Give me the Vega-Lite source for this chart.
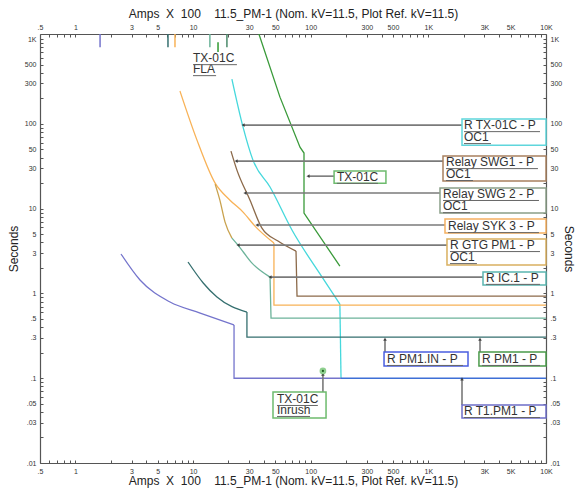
{
  "$schema": "https://vega.github.io/schema/vega-lite/v6.json",
  "width": 506,
  "height": 429,
  "autosize": {"type": "none"},
  "padding": {"left": 40, "top": 34, "right": 33, "bottom": 25},
  "background": "white",
  "config": {
    "view": {"stroke": null},
    "font": "Liberation Sans",
    "axis": {
      "grid": false,
      "domainColor": "#555555",
      "domainWidth": 1.2,
      "tickColor": "#555555",
      "tickSize": -3,
      "labelPadding": 7,
      "labelFontSize": 7,
      "labelColor": "#333333",
      "labelFont": "Liberation Sans",
      "labelOverlap": false,
      "labelFlush": false,
      "titleFont": "Liberation Sans",
      "titleFontSize": 12,
      "titleFontWeight": "normal",
      "titleColor": "#222222"
    }
  },
  "datasets": {
    "curves": [
      {"c": "TX-01C", "p": "t", "o": 1, "x": 36.3, "y": 1150},
      {"c": "TX-01C", "p": "t", "o": 2, "x": 54.8, "y": 207},
      {"c": "TX-01C", "p": "t", "o": 3, "x": 81.1, "y": 53.2},
      {"c": "TX-01C", "p": "t", "o": 4, "x": 87.7, "y": 45.3},
      {"c": "TX-01C", "p": "t", "o": 5, "x": 87.7, "y": 8.87},
      {"c": "TX-01C", "p": "t", "o": 6, "x": 177, "y": 2.1},
      {"c": "R TX-01C", "p": "c", "o": 1, "x": 21.4, "y": 337},
      {"c": "R TX-01C", "p": "c", "o": 2, "x": 26.6, "y": 91.7},
      {"c": "R TX-01C", "p": "c", "o": 3, "x": 32.3, "y": 37.4},
      {"c": "R TX-01C", "p": "c", "o": 4, "x": 45.1, "y": 18.0},
      {"c": "R TX-01C", "p": "c", "o": 5, "x": 69.3, "y": 5.6},
      {"c": "R TX-01C", "p": "c", "o": 6, "x": 125, "y": 1.56},
      {"c": "R TX-01C", "p": "c", "o": 7, "x": 177, "y": 0.75},
      {"c": "R TX-01C", "p": "t", "o": 7, "x": 177, "y": 0.75},
      {"c": "R TX-01C", "p": "t", "o": 8, "x": 181, "y": 0.1},
      {"c": "Relay SWG1", "p": "c", "o": 1, "x": 21.0, "y": 47.8},
      {"c": "Relay SWG1", "p": "c", "o": 2, "x": 23.6, "y": 28.5},
      {"c": "Relay SWG1", "p": "c", "o": 3, "x": 30.5, "y": 12.6},
      {"c": "Relay SWG1", "p": "c", "o": 4, "x": 38.5, "y": 5.9},
      {"c": "Relay SWG1", "p": "c", "o": 5, "x": 52.7, "y": 4.15},
      {"c": "Relay SWG1", "p": "c", "o": 6, "x": 75.0, "y": 3.16},
      {"c": "Relay SWG1", "p": "t", "o": 6, "x": 75.0, "y": 3.16},
      {"c": "Relay SWG1", "p": "t", "o": 7, "x": 76.5, "y": 0.93},
      {"c": "Relay SWG1", "p": "t", "o": 8, "x": 10000, "y": 0.93},
      {"c": "Relay SYK 3", "p": "c", "o": 1, "x": 7.74, "y": 244},
      {"c": "Relay SYK 3", "p": "c", "o": 2, "x": 10.8, "y": 64.4},
      {"c": "Relay SYK 3", "p": "c", "o": 3, "x": 15.4, "y": 20.0},
      {"c": "Relay SYK 3", "p": "c", "o": 4, "x": 20.6, "y": 12.6},
      {"c": "Relay SYK 3", "p": "c", "o": 5, "x": 26.6, "y": 9.12},
      {"c": "Relay SYK 3", "p": "c", "o": 6, "x": 33.6, "y": 6.23},
      {"c": "Relay SYK 3", "p": "c", "o": 7, "x": 48.7, "y": 3.93},
      {"c": "Relay SYK 3", "p": "t", "o": 7, "x": 48.7, "y": 3.93},
      {"c": "Relay SYK 3", "p": "t", "o": 8, "x": 48.7, "y": 0.73},
      {"c": "Relay SYK 3", "p": "t", "o": 9, "x": 10000, "y": 0.73},
      {"c": "R GTG PM1", "p": "c", "o": 1, "x": 15.4, "y": 19.5},
      {"c": "R GTG PM1", "p": "c", "o": 2, "x": 16.9, "y": 12.6},
      {"c": "R GTG PM1", "p": "c", "o": 3, "x": 18.7, "y": 6.95},
      {"c": "R GTG PM1", "p": "c", "o": 4, "x": 21.4, "y": 4.5},
      {"c": "R IC.1", "p": "c", "o": 1, "x": 21.4, "y": 4.5},
      {"c": "R IC.1", "p": "c", "o": 2, "x": 24.1, "y": 3.72},
      {"c": "R IC.1", "p": "c", "o": 3, "x": 31.7, "y": 2.28},
      {"c": "R IC.1", "p": "c", "o": 4, "x": 45.1, "y": 1.56},
      {"c": "R IC.1", "p": "t", "o": 4, "x": 45.1, "y": 1.56},
      {"c": "R IC.1", "p": "t", "o": 5, "x": 46.0, "y": 0.513},
      {"c": "R IC.1", "p": "t", "o": 6, "x": 10000, "y": 0.513},
      {"c": "R PM1", "p": "c", "o": 1, "x": 9.06, "y": 2.35},
      {"c": "R PM1", "p": "c", "o": 2, "x": 12.2, "y": 1.33},
      {"c": "R PM1", "p": "c", "o": 3, "x": 15.96, "y": 0.907},
      {"c": "R PM1", "p": "c", "o": 4, "x": 28.7, "y": 0.604},
      {"c": "R PM1", "p": "t", "o": 4, "x": 28.7, "y": 0.604},
      {"c": "R PM1", "p": "t", "o": 5, "x": 28.7, "y": 0.306},
      {"c": "R PM1", "p": "t", "o": 6, "x": 10000, "y": 0.306},
      {"c": "R T1.PM1", "p": "c", "o": 1, "x": 2.44, "y": 2.92},
      {"c": "R T1.PM1", "p": "c", "o": 2, "x": 3.54, "y": 1.44},
      {"c": "R T1.PM1", "p": "c", "o": 3, "x": 6.37, "y": 0.792},
      {"c": "R T1.PM1", "p": "c", "o": 4, "x": 11.5, "y": 0.587},
      {"c": "R T1.PM1", "p": "c", "o": 5, "x": 22.3, "y": 0.424},
      {"c": "R T1.PM1", "p": "t", "o": 5, "x": 22.3, "y": 0.424},
      {"c": "R T1.PM1", "p": "t", "o": 6, "x": 22.3, "y": 0.1},
      {"c": "R T1.PM1", "p": "t", "o": 7, "x": 181, "y": 0.1},
      {"c": "R T1.PM1 / R TX-01C", "p": "t", "o": 1, "x": 181, "y": 0.1},
      {"c": "R T1.PM1 / R TX-01C", "p": "t", "o": 2, "x": 10000, "y": 0.1}
    ],
    "ticks": [
      {"c": "R T1.PM1", "x": 1.62, "y": 1150, "y2": 805},
      {"c": "R PM1", "x": 6.12, "y": 1150, "y2": 805},
      {"c": "Relay SYK 3", "x": 7.02, "y": 1150, "y2": 805},
      {"c": "R IC.1", "x": 13.9, "y": 1150, "y2": 805},
      {"c": "R PM1.IN", "x": 19.4, "y": 1150, "y2": 805},
      {"c": "TX-01C FLA", "x": 16.3, "y": 922, "y2": 703}
    ],
    "arrows": [
      {"name": "R TX-01C", "x": 26.6, "x2": 1932, "y": 96.8, "y2": 96.8},
      {"name": "Relay SWG1", "x": 23.2, "x2": 1332, "y": 36.4, "y2": 36.4},
      {"name": "TX-01C", "x": 94.8, "x2": 158, "y": 24.2, "y2": 24.2},
      {"name": "Relay SWG 2", "x": 27.6, "x2": 1256, "y": 15.3, "y2": 15.3},
      {"name": "Relay SYK 3", "x": 34.9, "x2": 1385, "y": 6.41, "y2": 6.41},
      {"name": "R GTG PM1", "x": 24.1, "x2": 1440, "y": 3.72, "y2": 3.72},
      {"name": "R IC.1", "x": 45.1, "x2": 2914, "y": 1.56, "y2": 1.56},
      {"name": "R PM1.IN", "x": 428, "x2": 428, "y": 0.29, "y2": 0.204},
      {"name": "R PM1", "x": 2748, "x2": 2748, "y": 0.29, "y2": 0.204},
      {"name": "R T1.PM1", "x": 1932, "x2": 1932, "y": 0.098, "y2": 0.0483},
      {"name": "TX-01C Inrush", "x": 127, "x2": 127, "y": 0.112, "y2": 0.0687}
    ],
    "heads": [
      {"dir": "left", "x": 26.6, "y": 96.8},
      {"dir": "left", "x": 23.2, "y": 36.4},
      {"dir": "left", "x": 94.8, "y": 24.2},
      {"dir": "left", "x": 27.6, "y": 15.3},
      {"dir": "left", "x": 34.9, "y": 6.41},
      {"dir": "left", "x": 24.1, "y": 3.72},
      {"dir": "left", "x": 45.1, "y": 1.56},
      {"dir": "up", "x": 428, "y": 0.29},
      {"dir": "up", "x": 2748, "y": 0.29},
      {"dir": "up", "x": 1932, "y": 0.098},
      {"dir": "up", "x": 127, "y": 0.112}
    ],
    "boxes": [
      {"c": "R TX-01C", "x": 1932, "x2": 10000, "y": 114, "y2": 56.2},
      {"c": "Relay SWG1", "x": 1332, "x2": 10000, "y": 41.7, "y2": 21.2},
      {"c": "TX-01C", "x": 158, "x2": 436, "y": 27.8, "y2": 20.0},
      {"c": "Relay SWG 2", "x": 1256, "x2": 10000, "y": 17.5, "y2": 8.87},
      {"c": "Relay SYK 3", "x": 1385, "x2": 10000, "y": 7.54, "y2": 5.15},
      {"c": "R GTG PM1", "x": 1440, "x2": 10000, "y": 4.38, "y2": 2.16},
      {"c": "R IC.1", "x": 2914, "x2": 10000, "y": 1.79, "y2": 1.26},
      {"c": "R PM1.IN", "x": 420, "x2": 2173, "y": 0.204, "y2": 0.139},
      {"c": "R PM1", "x": 2692, "x2": 10000, "y": 0.204, "y2": 0.139},
      {"c": "R T1.PM1", "x": 1932, "x2": 10000, "y": 0.0483, "y2": 0.034},
      {"c": "TX-01C Inrush", "x": 47.8, "x2": 135, "y": 0.0687, "y2": 0.034}
    ],
    "labels": [
      {"t": "R TX-01C - P", "x": 2009, "y": 96.8},
      {"t": "OC1", "x": 2009, "y": 69.9},
      {"t": "Relay SWG1 - P", "x": 1412, "y": 35.4},
      {"t": "OC1", "x": 1412, "y": 25.6},
      {"t": "TX-01C", "x": 167, "y": 23.6},
      {"t": "Relay SWG 2 - P", "x": 1332, "y": 14.9},
      {"t": "OC1", "x": 1332, "y": 10.7},
      {"t": "Relay SYK 3 - P", "x": 1469, "y": 6.23},
      {"t": "R GTG PM1 - P", "x": 1527, "y": 3.72},
      {"t": "OC1", "x": 1527, "y": 2.69},
      {"t": "R IC.1 - P", "x": 3090, "y": 1.52},
      {"t": "R PM1.IN - P", "x": 445, "y": 0.168},
      {"t": "R PM1 - P", "x": 2857, "y": 0.168},
      {"t": "R T1.PM1 - P", "x": 2009, "y": 0.041},
      {"t": "TX-01C", "x": 51.7, "y": 0.0569},
      {"t": "Inrush", "x": 51.7, "y": 0.0422},
      {"t": "TX-01C", "x": 9.99, "y": 597},
      {"t": "FLA", "x": 9.99, "y": 443}
    ],
    "underlines": [
      {"x": 2009, "x2": 8891, "y": 81.1},
      {"x": 2009, "x2": 3404, "y": 58.6},
      {"x": 1412, "x2": 8545, "y": 29.7},
      {"x": 1412, "x2": 2395, "y": 21.5},
      {"x": 167, "x2": 373, "y": 19.9},
      {"x": 1332, "x2": 8715, "y": 12.5},
      {"x": 1332, "x2": 2260, "y": 8.97},
      {"x": 1469, "x2": 8715, "y": 5.22},
      {"x": 1527, "x2": 8891, "y": 3.12},
      {"x": 1527, "x2": 2588, "y": 2.25},
      {"x": 3090, "x2": 8891, "y": 1.28},
      {"x": 445, "x2": 1970, "y": 0.1415},
      {"x": 2857, "x2": 8891, "y": 0.1415},
      {"x": 2009, "x2": 8891, "y": 0.0344},
      {"x": 51.7, "x2": 115, "y": 0.0477},
      {"x": 51.7, "x2": 98.6, "y": 0.0354},
      {"x": 9.99, "x2": 23.6, "y": 500},
      {"x": 9.99, "x2": 15.7, "y": 371}
    ],
    "inrush": [
      {"x": 127, "y": 0.122}
    ]
  },
  "layer": [
    {
      "data": {"name": "curves"},
      "transform": [{"filter": {"field": "p", "equal": "c"}}],
      "mark": {"type": "line", "strokeWidth": 1.3, "interpolate": "monotone", "clip": true},
      "encoding": {
        "x": {
          "field": "x", "type": "quantitative",
          "scale": {"type": "log", "domain": [0.5, 10000], "nice": false},
          "axis": {
            "orient": "bottom",
            "title": "Amps\u00a0 X\u00a0 100\u00a0\u00a0\u00a0 11.5_PM-1 (Nom. kV=11.5, Plot Ref. kV=11.5)",
            "titlePadding": 1,
            "values": [0.5,0.6,0.7,0.8,0.9,1,2,3,4,5,6,7,8,9,10,20,30,40,50,60,70,80,90,100,200,300,400,500,600,700,800,900,1000,2000,3000,4000,5000,6000,7000,8000,9000,10000],
            "labelExpr": "indexof([0.5,1,3,5,10,30,50,100,300,500,1000,3000,5000,10000], datum.value) < 0 ? '' : (datum.value >= 1000 ? (datum.value/1000) + 'K' : (datum.value < 1 ? replace('' + datum.value, '0.', '.') : '' + datum.value))"
          }
        },
        "y": {
          "field": "y", "type": "quantitative",
          "scale": {"type": "log", "domain": [0.01, 1150], "nice": false},
          "axis": {
            "orient": "left",
            "title": "Seconds",
            "titlePadding": 4,
            "values": [0.01,0.02,0.03,0.04,0.05,0.06,0.07,0.08,0.09,0.1,0.2,0.3,0.4,0.5,0.6,0.7,0.8,0.9,1,2,3,4,5,6,7,8,9,10,20,30,40,50,60,70,80,90,100,200,300,400,500,600,700,800,900,1000],
            "labelExpr": "indexof([0.01,0.03,0.05,0.1,0.3,0.5,1,3,5,10,30,50,100,300,500,1000], datum.value) < 0 ? '' : (datum.value >= 1000 ? (datum.value/1000) + 'K' : (datum.value < 1 ? replace('' + datum.value, '0.', '.') : '' + datum.value))"
          }
        },
        "color": {
          "field": "c", "type": "nominal", "legend": null,
          "scale": {
            "domain": ["TX-01C", "R TX-01C", "Relay SWG1", "Relay SYK 3", "R GTG PM1", "R IC.1", "R PM1", "R T1.PM1", "R T1.PM1 / R TX-01C", "R PM1.IN", "TX-01C FLA"],
            "range": ["#3a9a3a", "#45d8dc", "#8c6a4a", "#f8b257", "#c9a24e", "#6cb39a", "#356f6f", "#7474cc", "#3e6fd6", "#4a8a6a", "#2f9a2f"]
          }
        },
        "order": {"field": "o", "type": "quantitative"}
      }
    },
    {
      "data": {"name": "ticks"},
      "mark": {"type": "rule", "strokeWidth": 1.5},
      "encoding": {
        "x": {
          "field": "x", "type": "quantitative",
          "axis": {
            "orient": "top",
            "title": "Amps\u00a0 X\u00a0 100\u00a0\u00a0\u00a0 11.5_PM-1 (Nom. kV=11.5, Plot Ref. kV=11.5)",
            "titlePadding": 3,
            "values": [0.5,0.6,0.7,0.8,0.9,1,2,3,4,5,6,7,8,9,10,20,30,40,50,60,70,80,90,100,200,300,400,500,600,700,800,900,1000,2000,3000,4000,5000,6000,7000,8000,9000,10000],
            "labelExpr": "indexof([0.5,1,3,5,10,30,50,100,300,500,1000,3000,5000,10000], datum.value) < 0 ? '' : (datum.value >= 1000 ? (datum.value/1000) + 'K' : (datum.value < 1 ? replace('' + datum.value, '0.', '.') : '' + datum.value))"
          }
        },
        "y": {
          "field": "y", "type": "quantitative",
          "axis": {
            "orient": "right",
            "title": "Seconds",
            "titlePadding": 0,
            "values": [0.01,0.02,0.03,0.04,0.05,0.06,0.07,0.08,0.09,0.1,0.2,0.3,0.4,0.5,0.6,0.7,0.8,0.9,1,2,3,4,5,6,7,8,9,10,20,30,40,50,60,70,80,90,100,200,300,400,500,600,700,800,900,1000],
            "labelExpr": "indexof([0.01,0.03,0.05,0.1,0.3,0.5,1,3,5,10,30,50,100,300,500,1000], datum.value) < 0 ? '' : (datum.value >= 1000 ? (datum.value/1000) + 'K' : (datum.value < 1 ? replace('' + datum.value, '0.', '.') : '' + datum.value))"
          }
        },
        "y2": {"field": "y2"},
        "color": {"field": "c", "type": "nominal", "legend": null}
      }
    },
    {
      "data": {"name": "curves"},
      "transform": [{"filter": {"field": "p", "equal": "t"}}],
      "mark": {"type": "line", "strokeWidth": 1.3, "clip": true},
      "encoding": {
        "x": {"field": "x", "type": "quantitative", "axis": null},
        "y": {"field": "y", "type": "quantitative", "axis": null},
        "color": {"field": "c", "type": "nominal", "legend": null},
        "order": {"field": "o", "type": "quantitative"}
      }
    },
    {
      "data": {"name": "arrows"},
      "mark": {"type": "rule", "color": "#7a7a7a", "strokeWidth": 1.6},
      "encoding": {
        "x": {"field": "x", "type": "quantitative", "axis": null},
        "x2": {"field": "x2"},
        "y": {"field": "y", "type": "quantitative", "axis": null},
        "y2": {"field": "y2"}
      }
    },
    {
      "data": {"name": "boxes"},
      "mark": {"type": "rect", "fill": "white", "strokeWidth": 1.5},
      "encoding": {
        "x": {"field": "x", "type": "quantitative", "axis": null},
        "x2": {"field": "x2"},
        "y": {"field": "y", "type": "quantitative", "axis": null},
        "y2": {"field": "y2"},
        "stroke": {
          "field": "c", "type": "nominal", "legend": null,
          "scale": {
            "domain": ["R TX-01C", "Relay SWG1", "TX-01C", "Relay SWG 2", "Relay SYK 3", "R GTG PM1", "R IC.1", "R PM1.IN", "R PM1", "R T1.PM1", "TX-01C Inrush"],
            "range": ["#5fd6dc", "#a8805f", "#6dbb6d", "#8a9f88", "#f5b060", "#d9b060", "#5ab5b0", "#4a5ee0", "#4a9a4a", "#6e6ec8", "#6dbb6d"]
          }
        }
      }
    },
    {
      "data": {"name": "labels"},
      "mark": {"type": "text", "align": "left", "baseline": "middle", "fontSize": 12, "color": "#333333", "font": "Liberation Sans"},
      "encoding": {
        "x": {"field": "x", "type": "quantitative", "axis": null},
        "y": {"field": "y", "type": "quantitative", "axis": null},
        "text": {"field": "t"}
      }
    },
    {
      "data": {"name": "underlines"},
      "mark": {"type": "rule", "color": "#666666", "strokeWidth": 1},
      "encoding": {
        "x": {"field": "x", "type": "quantitative", "axis": null},
        "x2": {"field": "x2"},
        "y": {"field": "y", "type": "quantitative", "axis": null}
      }
    },
    {
      "data": {"name": "heads"},
      "mark": {"type": "point", "filled": true, "size": 14, "color": "#222222"},
      "encoding": {
        "x": {"field": "x", "type": "quantitative", "axis": null},
        "y": {"field": "y", "type": "quantitative", "axis": null},
        "shape": {"field": "dir", "type": "nominal", "legend": null, "scale": {"domain": ["left", "up"], "range": ["triangle-left", "triangle-up"]}}
      }
    },
    {
      "data": {"name": "inrush"},
      "mark": {"type": "point", "filled": true, "size": 45, "color": "#8fd08f", "opacity": 1},
      "encoding": {
        "x": {"field": "x", "type": "quantitative", "axis": null},
        "y": {"field": "y", "type": "quantitative", "axis": null}
      }
    },
    {
      "data": {"name": "inrush"},
      "mark": {"type": "point", "filled": true, "size": 5, "color": "#1f5f1f", "opacity": 1},
      "encoding": {
        "x": {"field": "x", "type": "quantitative", "axis": null},
        "y": {"field": "y", "type": "quantitative", "axis": null}
      }
    }
  ],
  "resolve": {"axis": {"x": "independent", "y": "independent"}}
}
